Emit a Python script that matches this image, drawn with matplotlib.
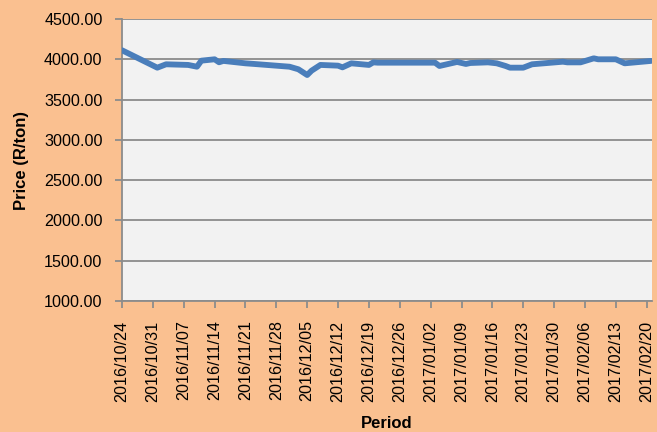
import pandas as pd
import matplotlib.pyplot as plt
import matplotlib.dates as mdates

plt.rcParams['font.family'] = ['Liberation Sans', 'DejaVu Sans']

# price readings (R/ton)
dates = ["2016-10-24", "2016-11-01", "2016-11-03", "2016-11-08", "2016-11-10",
         "2016-11-11", "2016-11-14", "2016-11-15", "2016-11-16", "2016-11-21",
         "2016-11-23", "2016-12-01", "2016-12-03", "2016-12-05", "2016-12-06",
         "2016-12-08", "2016-12-12", "2016-12-13", "2016-12-15", "2016-12-19",
         "2016-12-20", "2016-12-21", "2017-01-03", "2017-01-04", "2017-01-08",
         "2017-01-10", "2017-01-11", "2017-01-15", "2017-01-17", "2017-01-19",
         "2017-01-20", "2017-01-23", "2017-01-25", "2017-02-01", "2017-02-02",
         "2017-02-05", "2017-02-08", "2017-02-09", "2017-02-13", "2017-02-15",
         "2017-02-21"]
prices = [4112, 3896, 3938, 3930, 3908,
          3983, 4000, 3963, 3980, 3950,
          3942, 3908, 3876, 3805, 3859,
          3930, 3921, 3900, 3950, 3930,
          3962, 3958, 3958, 3917, 3967,
          3942, 3954, 3962, 3950, 3917,
          3896, 3896, 3938, 3970, 3962,
          3962, 4012, 4000, 4000, 3950,
          3980]

df = pd.DataFrame({'Date': pd.to_datetime(dates), 'Price': prices})

fig = plt.figure(figsize=(6.57, 4.32), dpi=100, facecolor='#FAC090')
ax = fig.add_axes([0.1857, 0.3032, 0.8067, 0.6528])
ax.set_facecolor('#F2F2F2')

ax.plot(df['Date'], df['Price'], color='#4A7EBB', linewidth=4.2,
        solid_joinstyle='round', solid_capstyle='round', zorder=3)

ax.set_ylim(1000, 4500)
ax.set_yticks(range(1000, 4501, 500))
ax.yaxis.set_major_formatter(plt.FuncFormatter(lambda v, p: f"{v:.2f}"))

ticks = pd.date_range("2016-10-24", "2017-02-20", freq="7D")
ax.set_xticks(ticks)
ax.xaxis.set_major_formatter(mdates.DateFormatter('%Y/%m/%d'))
ax.set_xlim(pd.Timestamp("2016-10-24"), pd.Timestamp("2017-02-21 05:00"))
plt.setp(ax.get_xticklabels(), rotation=90)

ax.grid(axis='y', color='#8C8C8C', linewidth=1.3)
ax.set_axisbelow(True)
for s in ['top', 'right']:
    ax.spines[s].set_visible(False)
for s in ['left', 'bottom']:
    ax.spines[s].set_color('#8C8C8C')
    ax.spines[s].set_linewidth(1.3)
ax.tick_params(axis='both', colors='#8C8C8C', labelcolor='black',
               labelsize=11.6, length=5, width=1.3)
ax.tick_params(axis='y', pad=9)
ax.tick_params(axis='x', pad=9)

ax.set_ylabel('Price (R/ton)', fontsize=12, fontweight='bold', labelpad=11)
ax.set_xlabel('Period', fontsize=12, fontweight='bold', labelpad=10)

plt.savefig('out.png', dpi=100, facecolor=fig.get_facecolor())
